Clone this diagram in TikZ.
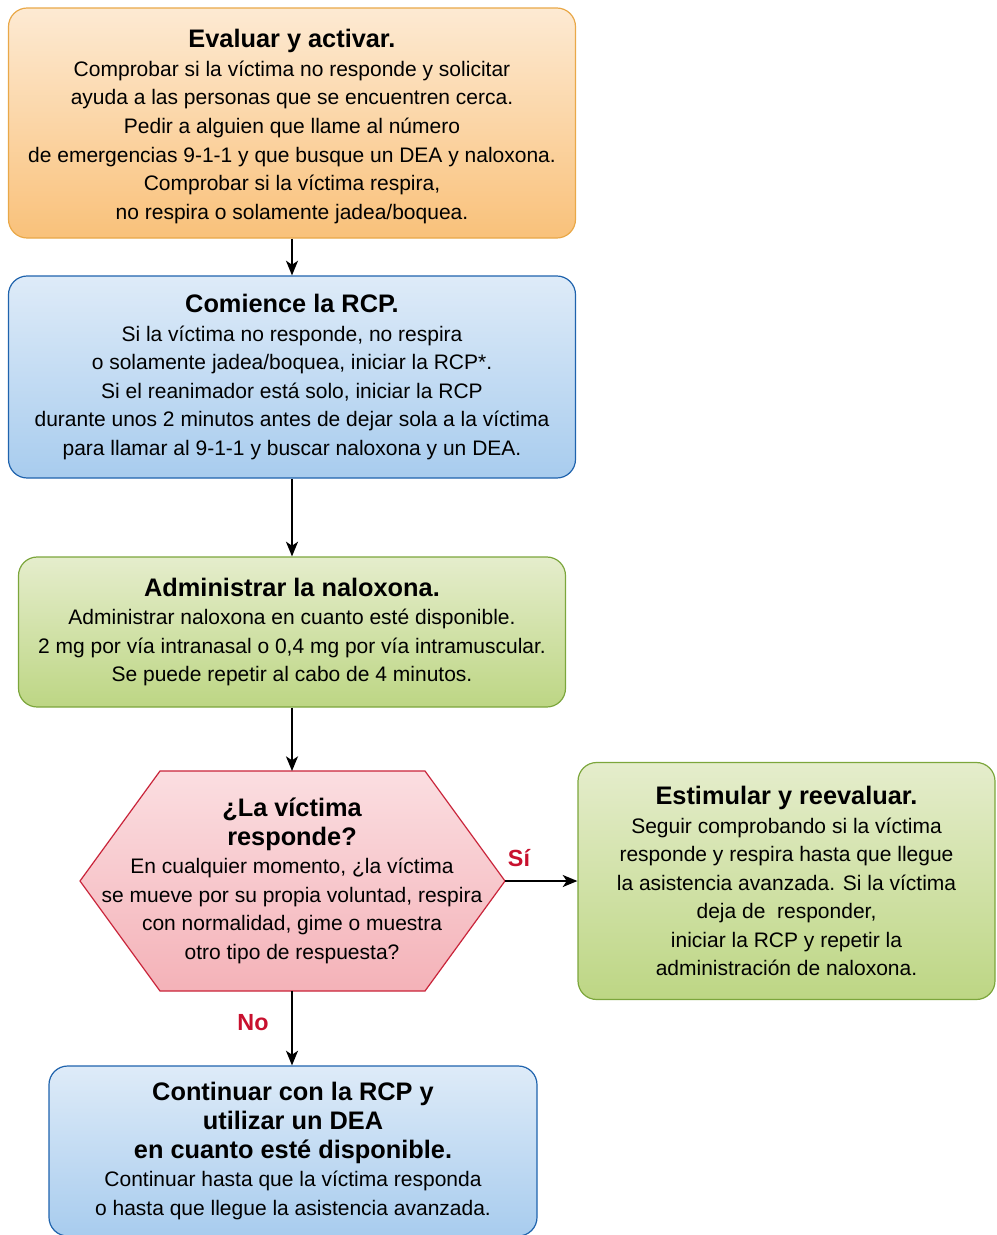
\documentclass[tikz,border=0pt]{standalone}
\usepackage{fontspec}
\setmainfont{Liberation Sans}
\usepackage{xcolor}
\usepackage{tikz}
\usetikzlibrary{arrows.meta,positioning,shapes,calc}

\definecolor{orTop}{HTML}{FDEAD3}
\definecolor{orBot}{HTML}{F9C17A}
\definecolor{orLine}{HTML}{E9A848}
\definecolor{blTop}{HTML}{DEEBF8}
\definecolor{blBot}{HTML}{A8CCEE}
\definecolor{blLine}{HTML}{1F63AD}
\definecolor{grTop}{HTML}{E5EDCC}
\definecolor{grBot}{HTML}{BDD684}
\definecolor{grLine}{HTML}{7CA63C}
\definecolor{pkTop}{HTML}{FBDEE1}
\definecolor{pkBot}{HTML}{F4B2B8}
\definecolor{pkLine}{HTML}{C9243A}
\definecolor{answerRed}{HTML}{C8102E}

\newcommand{\flowtitle}[1]{{\fontsize{19}{21.4}\selectfont\bfseries #1}}

\tikzset{
  box/.style={draw, rounded corners=14pt, line width=0.9pt, inner sep=0pt,
    align=center, text=black, font=\fontsize{15.75}{21.4}\selectfont},
  orangebox/.style={box, draw=orLine, top color=orTop, bottom color=orBot},
  bluebox/.style={box, draw=blLine, top color=blTop, bottom color=blBot},
  greenbox/.style={box, draw=grLine, top color=grTop, bottom color=grBot},
  flow/.style={-{Stealth[length=11pt,width=9pt,inset=3pt]}, line width=1.5pt},
  answer/.style={text=answerRed, font=\fontsize{17.5}{20}\selectfont\bfseries}
}

\begin{document}
\begin{tikzpicture}[x=0.75pt,y=-0.75pt]
  \useasboundingbox (0,0) rectangle (996,1235);

  % first steps
  \node[orangebox, minimum width=425.25pt, minimum height=172.5pt] (eval) at (292,123)
    {\flowtitle{\rule{0pt}{19pt}Evaluar y activar.}\\
     Comprobar si la víctima no responde y solicitar\\
     ayuda a las personas que se encuentren cerca.\\
     Pedir a alguien que llame al número\\
     de emergencias 9-1-1 y que busque un DEA y naloxona.\\
     Comprobar si la víctima respira,\\
     no respira o solamente jadea/boquea.};
  \node[bluebox, minimum width=425.25pt, minimum height=151.5pt] (rcp) at (292,377)
    {\flowtitle{Comience la RCP.}\\
     Si la víctima no responde, no respira\\
     o solamente jadea/boquea, iniciar la RCP*.\\
     Si el reanimador está solo, iniciar la RCP\\
     durante unos 2 minutos antes de dejar sola a la víctima\\
     para llamar al 9-1-1 y buscar naloxona y un DEA.};
  \node[greenbox, minimum width=410.25pt, minimum height=112.5pt] (nalox) at (292,632)
    {\flowtitle{Administrar la naloxona.}\\
     Administrar naloxona en cuanto esté disponible.\\
     2 mg por vía intranasal o 0,4 mg por vía intramuscular.\\
     Se puede repetir al cabo de 4 minutos.};

  % decision
  \coordinate (hexT) at (292,771);
  \coordinate (hexB) at (292,991);
  \coordinate (hexR) at (505,881);
  \draw[draw=pkLine, line width=0.9pt, top color=pkTop, bottom color=pkBot]
    (80,881) -- (160,771) -- (425,771) -- (hexR) -- (425,991) -- (160,991) -- cycle;
  \node[align=center, font=\fontsize{15.75}{21.4}\selectfont] (resp) at (292,881)
    {\flowtitle{¿La víctima}\\
     \flowtitle{responde?}\\
     En cualquier momento, ¿la víctima\\
     se mueve por su propia voluntad, respira\\
     con normalidad, gime o muestra\\
     otro tipo de respuesta?};

  % outcomes
  \node[greenbox, minimum width=312.75pt, minimum height=177.75pt] (estim) at (786.5,881)
    {\flowtitle{Estimular y reevaluar.}\\
     Seguir comprobando si la víctima\\
     responde y respira hasta que llegue\\
     la asistencia avanzada. Si la víctima\\
     deja de\ \ responder,\\
     iniciar la RCP y repetir la\\
     administración de naloxona.};
  \node[bluebox, minimum width=366pt, minimum height=127.5pt] (cont) at (293,1151)
    {\flowtitle{Continuar con la RCP y}\\
     \flowtitle{utilizar un DEA}\\
     \flowtitle{en cuanto esté disponible.}\\
     Continuar hasta que la víctima responda\\
     o hasta que llegue la asistencia avanzada.};

  \node[answer] (si) at (519,858) {Sí};
  \node[answer] (no) at (253,1023) {No};

  % arrows
  \draw[flow] (eval.south) -- (rcp.north);
  \draw[flow] (rcp.south) -- (nalox.north);
  \draw[flow] (nalox.south) -- (hexT);
  \draw[flow] (hexR) -- (estim.west);
  \draw[flow] (hexB) -- (hexB |- cont.north);
\end{tikzpicture}
\end{document}
